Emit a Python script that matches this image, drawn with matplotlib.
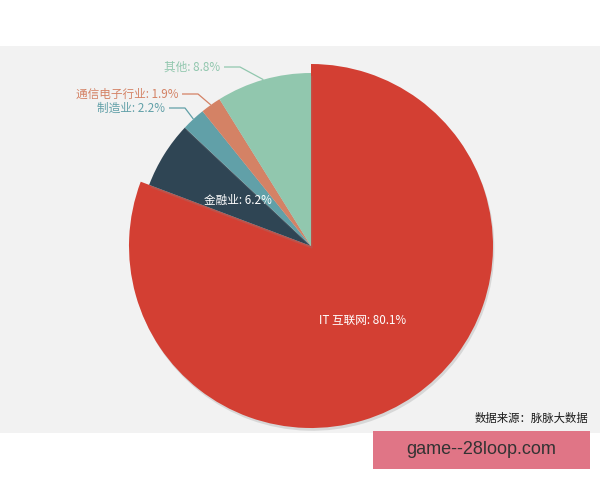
import numpy as np
import matplotlib.pyplot as plt
import matplotlib.patheffects as pe
from matplotlib.patches import Rectangle

plt.rcParams['font.family'] = ['Noto Sans CJK SC', 'DejaVu Sans']

labels = ['IT 互联网', '金融业', '制造业', '通信电子行业', '其他']
shares = [80.1, 6.2, 2.2, 1.9, 8.8]
colors = ['#d33f33', '#2f4554', '#61a0a8', '#d48265', '#91c7ae']
source = '数据来源：脉脉大数据'
watermark = 'game--28loop.com'

H = 480
def py(y):
    # picture rows (top down) -> data y (bottom up)
    return H - y

fig = plt.figure(figsize=(6, 4.8), dpi=100)
ax = fig.add_axes([0, 0, 1, 1])

ax.add_patch(Rectangle((0, py(433)), 600, 433 - 46, facecolor='#f2f2f2',
                       edgecolor='none', zorder=0))

cx, cy = 311, py(246)
R = 173
wedges, _ = ax.pie(shares, colors=colors, startangle=90, counterclock=False,
                   center=(cx, cy), radius=R, frame=True,
                   wedgeprops=dict(linewidth=0))
wedges[0].set_radius(182)
for w in wedges:
    w.set_path_effects([pe.SimplePatchShadow(offset=(1, -2), shadow_rgbFace='#888888', alpha=0.25),
                        pe.Normal()])

def mid(w):
    return np.deg2rad((w.theta1 + w.theta2) / 2)

# labels inside the two big slices
for i in (0, 1):
    w = wedges[i]
    a = mid(w)
    r = 0.5 * w.r
    ax.text(cx + r * np.cos(a), cy + r * np.sin(a), f'{labels[i]}: {shares[i]}%',
            color='white', fontsize=8.4, ha='center', va='center')

# labels with leader lines for the small slices
elbows = {2: (185, 108), 3: (198, 94), 4: (240, 67)}
for i, (ex, ey) in elbows.items():
    a = mid(wedges[i])
    sx, sy = cx + R * np.cos(a), cy + R * np.sin(a)
    ax.plot([sx, ex, ex - 16], [sy, py(ey), py(ey)], color=colors[i], lw=0.9,
            solid_capstyle='butt')
    ax.text(ex - 20, py(ey), f'{labels[i]}: {shares[i]}%', color=colors[i],
            fontsize=8.4, ha='right', va='center')

ax.text(588, py(418), source, fontsize=8.2, color='#1a1a1a', ha='right', va='center')

ax.add_patch(Rectangle((373, py(469)), 217, 38, facecolor='#e07586',
                       edgecolor='none', zorder=5))
ax.text(481, py(450), watermark, fontsize=13, color='#333333', ha='center',
        va='center', family='Liberation Sans', zorder=6)

ax.set_xlim(0, 600)
ax.set_ylim(0, 480)
ax.set_aspect('equal')
ax.axis('off')

fig.savefig('out.png', dpi=100, facecolor='white')
